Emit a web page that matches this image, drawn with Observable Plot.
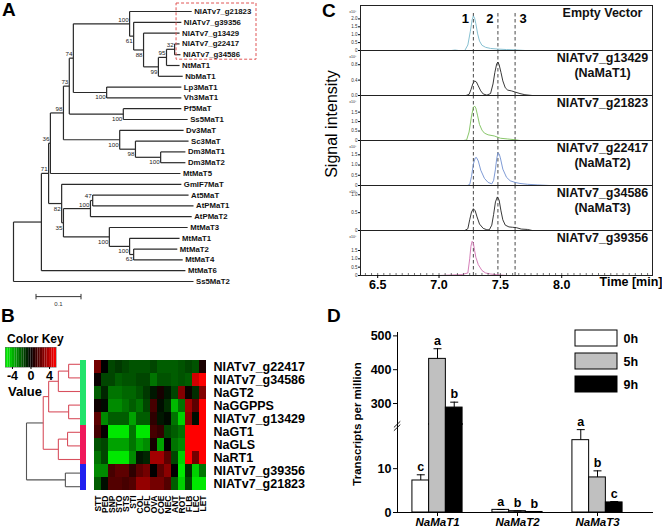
<!DOCTYPE html>
<html><head><meta charset="utf-8">
<script src="https://cdn.jsdelivr.net/npm/d3@7"></script>
<script src="https://cdn.jsdelivr.net/npm/@observablehq/plot@0.6"></script>
<style>
html,body{margin:0;padding:0;background:#fff;}
#root{position:relative;width:662px;height:527px;overflow:hidden;background:#fff;font-family:'Liberation Sans',Arial,sans-serif;}
#root svg{overflow:visible;max-width:none;}
</style></head><body><div id="root"></div>
<script>
// ---------------- DATA ----------------
// Panel A: phylogenetic tree
const treeLeafNames = ["NIATv7_g21823","NIATv7_g39356","NIATv7_g13429","NIATv7_g22417","NIATv7_g34586","NtMaT1","NbMaT1","Lp3MaT1","Vh3MaT1","Pf5MaT","Ss5MaT1","Dv3MaT","Sc3MaT","Dm3MaT1","Dm3MaT2","MtMaT5","GmIF7MaT","At5MaT","AtPMaT1","AtPMaT2","MtMaT3","MtMaT1","MtMaT2","MtMaT4","MtMaT6","Ss5MaT2"];
const treeLeafParent = ["A","B","C","F","F","E","D","H","H","J","J","L","M","N","N","O","P","S2","S2","S","T","U","V","V","N1","root"];
const treeLeafDepth = [0.396,0.373,0.369,0.369,0.371,0.369,0.376,0.373,0.373,0.373,0.387,0.378,0.389,0.382,0.382,0.371,0.373,0.389,0.400,0.396,0.387,0.369,0.364,0.376,0.382,0.400];
const treeNodeNames  = ["root","N1","Q","O","K","I","G","A","B","C","D","E","F","H","J","L","M","N","P","R","S","S2","T","U","V"];
const treeNodeParent = [null,"root","N1","Q","O","K","I","G","A","B","C","D","E","G","I","K","L","M","Q","P","R","S","R","T","U"];
const treeNodeDepth  = [0,0.062,0.078,0.082,0.111,0.124,0.133,0.258,0.267,0.289,0.322,0.340,0.358,0.207,0.244,0.236,0.271,0.327,0.107,0.111,0.171,0.176,0.213,0.258,0.267];
const treeNodeSupport= [null,null,71,36,98,73,74,100,61,88,99,95,32,100,100,100,98,100,82,35,100,47,100,100,63];
const supportAbove = ["A","E","F","G","I","K","O","Q","S","S2"];
const highlightLeaves = ["NIATv7_g21823","NIATv7_g39356","NIATv7_g13429","NIATv7_g22417","NIATv7_g34586"];
const scaleBarStart = 0.05, scaleBarLength = 0.1, scaleBarLabel = "0.1";

// Panel B: heatmap
const heatRows = ["NIATv7_g22417","NIATv7_g34586","NaGT2","NaGGPPS","NIATv7_g13429","NaGT1","NaGLS","NaRT1","NIATv7_g39356","NIATv7_g21823"];
const heatCols = ["STT","PED","SNP","STO","STS","STI","COL","OFL","OVA","COE","NEC","ANT","ROT","FLB","LEC","LET"];
const heatValues = [
  [2.5,0,-1.5,-1.2,-1.5,-1.8,-1.8,-1.8,-1.5,-2,-2,-2,-1.8,-1.5,-1.8,0.6],
  [0.2,-1.5,-1.5,-2,-1.8,-1.8,-1.5,-1.5,-2.5,-1.8,-1.8,-2,-1.8,-2,4.5,5.5],
  [-2,-0.8,-2.5,-2.5,-2.2,-2.2,-1.8,-1.2,-0.5,0.5,-0.5,-1.5,2.8,0.3,-1,2.8],
  [0.3,-0.2,-3,-3,-2.5,-2,-2.5,-1.5,1.5,-0.3,-1,-4,-2.5,3.5,2,5.5],
  [2,-3,-2,-2,-2,-3.5,-2,-2,1,-0.5,-0.2,-2.5,-4.5,3,-0.3,5.5],
  [1.5,0.1,-5,-5,-5,-2.5,-5,-5,1.5,1.1,-1.5,-2,-2.5,5.5,5.5,5.5],
  [-1.8,-1.5,-3.5,-3.5,-3.5,-2.5,-3.5,-3,0.5,-3.5,0,-2.5,-3,5.5,5.5,5.5],
  [-2.5,-1.5,-5,-5,-5,-3,-0.5,-0.8,3.5,3.5,2,-1.5,-4.5,5.5,2.5,5.5],
  [-3,-3,1.5,2,2,1,2,2.5,0,2,3,0,-5,-1,-4.5,-2.5],
  [-2,-0.3,1.8,1.8,1.5,1.8,3.2,3.2,2.5,2.5,1.8,-2,-4.5,-1.5,-5,-5]
];
const heatRowCluster = ["c1","c1","c1","c1","c1","c2","c2","c2","c3","c3"];
const clusterColors = {c1: "#22e36b", c2: "#f0185a", c3: "#2020f0"};
const dendroIds = heatRows.concat(["n01","n012","n34","nG","n56","nP","nGP","nB","root"]);
const dendroParent = ["n01","n01","n012","n34","n34","n56","n56","nP","nB","nB","n012","nG","nG","nGP","nP","nGP","root","root",null];
const dendroHeight = [0,0,0,0,0,0,0,0,0,0,0.22,0.41,0.22,0.59,0.24,0.41,0.69,0.28,1];
const dendroRedNode = "nGP";
const keyDomain = [-5.5, 5.5];
const keyTicks = [-4, 0, 4];

// Panel C: chromatograms
const peakTimes = [7.28, 7.48, 7.62];
const peakNames = ["1", "2", "3"];
const chromLabels = ["Empty Vector","NIATv7_g13429\n(NaMaT1)","NIATv7_g21823","NIATv7_g22417\n(NaMaT2)","NIATv7_g34586\n(NaMaT3)","NIATv7_g39356"];
const chromColors = ["#79b9cc","#222222","#7cc05a","#7090d0","#222222","#d070b0"];
const chromMax = [2.85, 1.17, 2.38, 2.2, 1.26, 2.7];
const chromTicks = [[0,0.5,1,1.5,2],[0,0.4,0.8],[0,0.5,1,1.5],[0,0.5,1,1.5],[0,0.5,1],[0,0.5,1,1.5]];
const tEV = [6.36,7.10,7.13,7.16,7.21,7.235,7.255,7.27,7.28,7.29,7.30,7.315,7.33,7.35,7.38,7.42,7.48,7.55,7.62,7.70,8.74];
const vEV = [0,0,0.03,0,0,0.35,1.2,1.95,2.19,2.05,1.7,1.05,0.6,0.33,0.2,0.13,0.09,0.06,0.04,0,0];
const t13429 = [6.36,7.22,7.245,7.26,7.275,7.29,7.305,7.32,7.34,7.36,7.39,7.42,7.44,7.455,7.47,7.48,7.49,7.505,7.52,7.54,7.56,7.59,7.62,7.66,7.70,7.76,8.74];
const v13429 = [0,0,0.03,0.15,0.3,0.38,0.35,0.25,0.12,0.04,0.01,0.05,0.3,0.6,0.82,0.87,0.8,0.6,0.38,0.2,0.14,0.12,0.09,0.05,0.02,0,0];
const t21823 = [6.36,7.20,7.225,7.245,7.265,7.28,7.29,7.30,7.315,7.33,7.35,7.37,7.40,7.45,7.50,7.56,7.62,7.66,8.74];
const v21823 = [0,0,0.03,0.45,1.3,1.75,1.82,1.72,1.3,0.85,0.55,0.39,0.3,0.24,0.12,0.08,0.04,0,0];
const t22417 = [6.36,7.23,7.25,7.265,7.28,7.295,7.305,7.32,7.34,7.37,7.40,7.43,7.445,7.46,7.47,7.48,7.49,7.50,7.52,7.55,7.58,7.62,7.66,7.72,7.80,7.90,8.74];
const v22417 = [0,0,0.05,0.45,1.05,1.35,1.37,1.2,0.75,0.35,0.15,0.08,0.25,0.8,1.3,1.6,1.55,1.35,0.8,0.4,0.23,0.15,0.1,0.06,0.03,0,0];
const t34586 = [6.36,7.21,7.235,7.25,7.265,7.28,7.295,7.31,7.33,7.36,7.39,7.41,7.43,7.445,7.46,7.475,7.49,7.505,7.52,7.54,7.57,7.60,7.63,7.67,7.72,7.76,8.74];
const v34586 = [0,0,0.05,0.3,0.52,0.61,0.55,0.38,0.18,0.06,0.02,0.02,0.15,0.45,0.8,0.94,0.85,0.55,0.3,0.15,0.1,0.09,0.08,0.04,0.03,0,0];
const t39356 = [6.36,7.00,7.10,7.18,7.235,7.25,7.26,7.27,7.28,7.29,7.30,7.32,7.35,7.38,7.42,7.47,7.55,8.74];
const v39356 = [0,0,0.03,0.05,0.15,1.0,1.75,2.05,1.95,1.5,1.1,0.65,0.3,0.15,0.09,0.05,0,0];
const chromTimes = [tEV,t13429,t21823,t22417,t34586,t39356];
const chromValues = [vEV,v13429,v21823,v22417,v34586,v39356];
const timeTicks = [6.5, 7.0, 7.5, 8.0];

// Panel D: transcripts per million
const genes = ["NaMaT1","NaMaT2","NaMaT3"];
const timePoints = ["0h","5h","9h"];
const tpmMean = [[7.3,432,288],[0.6,0.3,0.12],[16.5,8.0,2.3]];
const tpmSE   = [[1.3,30,16],[0.08,0.05,0.03],[2.4,1.5,0.2]];
const tpmLetters = [["c","a","b"],["a","b","b"],["a","b","c"]];
const barFills = ["#ffffff","#c0c0c0","#000000"];
const lowerTicks = [0, 10], upperTicks = [300, 400, 500];

// ---------------- HELPERS ----------------
const root = document.getElementById("root");
const FONT = "'Liberation Sans', Arial, sans-serif";
const ST = {background: "transparent", overflow: "visible", fontFamily: FONT, maxWidth: "none", color: "#000"};
function place(node, left, top) {
  const d = document.createElement("div");
  d.style.position = "absolute"; d.style.left = left + "px"; d.style.top = top + "px";
  d.appendChild(node); root.appendChild(d); return d;
}
function label(text, left, top, opts = {}) {
  const d = document.createElement("div");
  d.textContent = text;
  Object.assign(d.style, {position: "absolute", left: left + "px", top: top + "px", fontWeight: "bold",
    fontSize: "19px", lineHeight: "1", whiteSpace: "nowrap", fontFamily: FONT, color: "#000"}, opts);
  root.appendChild(d); return d;
}

// ---------------- PANEL A ----------------
(function () {
  const parent = new Map(), depth = new Map(), kids = new Map(), yOf = new Map();
  treeNodeNames.forEach((n, i) => { parent.set(n, treeNodeParent[i]); depth.set(n, treeNodeDepth[i]); kids.set(n, []); });
  treeLeafNames.forEach((n, i) => { parent.set(n, treeLeafParent[i]); depth.set(n, treeLeafDepth[i]); yOf.set(n, i); });
  for (const [n, p] of parent) if (p) kids.get(p).push(n);
  function ny(n) {
    if (yOf.has(n)) return yOf.get(n);
    const ys = kids.get(n).map(ny);
    const y = (d3.min(ys) + d3.max(ys)) / 2; yOf.set(n, y); return y;
  }
  ny("root");
  const hLinks = [...parent].filter(([n, p]) => p).map(([n, p]) => ({x1: depth.get(p), x2: depth.get(n), y: yOf.get(n)}));
  const vLinks = treeNodeNames.map(n => { const ys = kids.get(n).map(k => yOf.get(k)); return {x: depth.get(n), y1: d3.min(ys), y2: d3.max(ys)}; });
  const leaves = treeLeafNames.map((n, i) => ({name: n, x: treeLeafDepth[i], y: i}));
  const sup = treeNodeNames.map((n, i) => ({n, x: treeNodeDepth[i], y: yOf.get(n), s: String(treeNodeSupport[i])})).filter((d, i) => treeNodeSupport[i] != null);
  const hl = highlightLeaves.map(n => treeLeafNames.indexOf(n));
  const box = [{x1: d3.min(highlightLeaves, n => depth.get(n)), x2: 0.54, y1: d3.min(hl), y2: d3.max(hl)}];
  const sbY = treeLeafNames.length + 0.4;
  const sb = [{a: scaleBarStart, b: scaleBarStart + scaleBarLength, y: sbY}];
  const sbTicks = [scaleBarStart, scaleBarStart + scaleBarLength].map(x => ({x, y1: sbY - 0.25, y2: sbY + 0.25}));
  const svg = Plot.plot({
    width: 262, height: 310, marginLeft: 13, marginRight: 6, marginTop: 11, marginBottom: 29,
    style: ST,
    x: {domain: [0, 0.54], axis: null},
    y: {domain: [0, 25], reverse: true, axis: null},
    marks: [
      Plot.link(hLinks, {x1: "x1", x2: "x2", y1: "y", y2: "y", stroke: "#2a2a2a", strokeWidth: 1.2}),
      Plot.link(vLinks, {x1: "x", x2: "x", y1: "y1", y2: "y2", stroke: "#2a2a2a", strokeWidth: 1.2}),
      Plot.text(leaves, {x: "x", y: "y", text: "name", dx: 2.5, textAnchor: "start", fontSize: 7.8, fontWeight: "bold", fill: "#111"}),
      Plot.text(sup.filter(d => supportAbove.includes(d.n)), {x: "x", y: "y", text: "s", textAnchor: "end", dx: -1, dy: -4, fontSize: 6.2, fill: "#222"}),
      Plot.text(sup.filter(d => !supportAbove.includes(d.n)), {x: "x", y: "y", text: "s", textAnchor: "end", dx: -1, dy: 5, fontSize: 6.2, fill: "#222"}),
      Plot.rect(box, {x1: "x1", x2: "x2", y1: "y1", y2: "y2", fill: "none", stroke: "#e05555", strokeWidth: 1, strokeDasharray: "3,2", insetLeft: -3, insetTop: -8, insetBottom: -5}),
      Plot.link(sb, {x1: "a", x2: "b", y1: "y", y2: "y", stroke: "#333", strokeWidth: 1}),
      Plot.link(sbTicks, {x1: "x", x2: "x", y1: "y1", y2: "y2", stroke: "#333", strokeWidth: 1}),
      Plot.text(sb, {x: d => (d.a + d.b) / 2, y: "y", text: () => scaleBarLabel, dy: 7, fontSize: 6, fill: "#333"})
    ]
  });
  place(svg, 0, 0);
})();
label("A", 2, 0);

// ---------------- PANEL B ----------------
const heatColor = {type: "linear", domain: [keyDomain[0], 0, keyDomain[1]], range: ["#00ff00", "#000000", "#ff0000"], clamp: true};
(function () {
  const cells = [];
  heatRows.forEach((r, i) => heatCols.forEach((c, j) => cells.push({row: r, col: c, v: heatValues[i][j]})));
  const svg = Plot.plot({
    width: 236, height: 170, marginLeft: 0, marginRight: 115, marginTop: 0, marginBottom: 34,
    style: ST,
    x: {domain: heatCols, padding: 0},
    y: {domain: heatRows, padding: 0},
    color: heatColor,
    marks: [
      Plot.cell(cells, {x: "col", y: "row", fill: "v"}),
      Plot.axisY({anchor: "right", tickSize: 0, tickPadding: 3, fontSize: 12.5, fontWeight: "bold", label: null}),
      Plot.axisX({anchor: "bottom", tickSize: 0, tickPadding: 2, tickRotate: -90, fontSize: 8.5, fontWeight: "bold", label: null})
    ]
  });
  place(svg, 89, 357);

  // dendrogram
  const par = new Map(), h = new Map(), kids = new Map(), yOf = new Map();
  dendroIds.forEach((n, i) => { par.set(n, dendroParent[i]); h.set(n, dendroHeight[i]); kids.set(n, []); });
  heatRows.forEach((n, i) => yOf.set(n, i));
  for (const [n, p] of par) if (p) kids.get(p).push(n);
  function ny(n) { if (yOf.has(n)) return yOf.get(n); const ys = kids.get(n).map(ny); const y = (d3.min(ys) + d3.max(ys)) / 2; yOf.set(n, y); return y; }
  ny("root");
  const red = new Set();
  (function mark(n) { red.add(n); kids.get(n).forEach(mark); })(dendroRedNode);
  const hL = [...par].filter(([n, p]) => p).map(([n, p]) => ({x1: h.get(p), x2: h.get(n), y: yOf.get(n), red: red.has(p)}));
  const vL = dendroIds.filter(n => kids.get(n).length).map(n => { const ys = kids.get(n).map(k => yOf.get(k)); return {x: h.get(n), y1: d3.min(ys), y2: d3.max(ys), red: red.has(n)}; });
  const links = hL.map(d => ({x1: d.x1, x2: d.x2, y1: d.y, y2: d.y, red: d.red})).concat(vL.map(d => ({x1: d.x, x2: d.x, y1: d.y1, y2: d.y2, red: d.red})));
  const dsvg = Plot.plot({
    width: 80, height: 136, marginLeft: 26, marginRight: 0, marginTop: 0, marginBottom: 0,
    style: ST,
    x: {domain: [1, 0], axis: null},
    y: {domain: [-0.5, heatRows.length - 0.5], reverse: true, axis: null},
    marks: [
      Plot.link(links.filter(d => !d.red), {x1: "x1", x2: "x2", y1: "y1", y2: "y2", stroke: "#555", strokeWidth: 1.1}),
      Plot.link(links.filter(d => d.red), {x1: "x1", x2: "x2", y1: "y1", y2: "y2", stroke: "#d8505e", strokeWidth: 1.1})
    ]
  });
  place(dsvg, 0, 357);

  // side colour bar
  const ssvg = Plot.plot({
    width: 6, height: 136, margin: 0, style: ST,
    x: {domain: ["k"], padding: 0, axis: null},
    y: {domain: heatRows, padding: 0, axis: null},
    color: {type: "identity"},
    marks: [Plot.cell(heatRows, {x: () => "k", y: d => d, fill: (d, i) => clusterColors[heatRowCluster[i]]})]
  });
  place(ssvg, 80, 357);

  // colour key
  const steps = d3.range(keyDomain[0], keyDomain[1], 0.5).map(a => ({a, b: a + 0.5, v: a + 0.25}));
  const ksvg = Plot.plot({
    width: 70, height: 38, marginLeft: 5, marginRight: 14, marginTop: 0, marginBottom: 18,
    style: ST,
    x: {domain: keyDomain},
    y: {axis: null},
    color: heatColor,
    marks: [
      Plot.rect(steps, {x1: "a", x2: "b", fill: "v"}),
      Plot.frame({stroke: "#666", strokeWidth: 0.5}),
      Plot.axisX({ticks: keyTicks, tickSize: 2, tickPadding: 2, tickFormat: d => String(d), fontSize: 12.5, fontWeight: "bold", label: null})
    ]
  });
  place(ksvg, 0, 347);
})();
label("B", 1, 306);
label("Color Key", 7, 333, {fontSize: "12px"});
label("Value", 8, 385, {fontSize: "13px"});

// ---------------- PANEL C ----------------
(function () {
  const n = chromLabels.length;
  const minor = d3.range(6.40, 8.74, 0.05);
  chromLabels.forEach((lab, i) => {
    const last = i === n - 1;
    const data = chromTimes[i].map((t, k) => ({t, v: chromValues[i][k]}));
    const fmt = i === 1 ? d3.format(".1f") : (d => d === 0 ? "0" : d3.format(".1f")(d));
    const peaks = peakTimes.map((t, k) => ({t, name: peakNames[k]}));
    const marks = [
      Plot.ruleX(peakTimes, {stroke: "#333", strokeWidth: 0.9, strokeDasharray: "3.5,2.5", insetTop: i === 0 ? 8 : 0}),
      Plot.line(data, {x: "t", y: "v", stroke: chromColors[i], strokeWidth: 0.9}),
      Plot.frame({stroke: "#222", strokeWidth: 1}),
      Plot.axisY({ticks: chromTicks[i], tickSize: 2, tickPadding: 1, fontSize: 4.5, tickFormat: fmt, label: null, fill: "#333"}),
      Plot.text(["x10⁶"], {frameAnchor: "top-left", dx: -4, dy: 4.5, textAnchor: "end", fontSize: 3.6, fill: "#333"}),
      Plot.text([lab], {frameAnchor: "top-right", dx: -50, dy: 0.5, textAnchor: "middle", lineAnchor: "top", lineHeight: 1.2, fontSize: 12.5, fontWeight: "bold", fill: "#111"})
    ];
    if (i === 0) {
      marks.push(Plot.text(peaks.slice(0, 2), {x: "t", text: "name", frameAnchor: "top", dy: 8, dx: -8, fontSize: 13, fontWeight: "bold"}));
      marks.push(Plot.text(peaks.slice(2), {x: "t", text: "name", frameAnchor: "top", dy: 8, dx: 8, fontSize: 13, fontWeight: "bold"}));
    }
    if (last) {
      marks.push(Plot.ruleX(minor, {insetTop: 43, stroke: "#333", strokeWidth: 0.7}));
      marks.push(Plot.axisX({ticks: timeTicks, tickSize: 3, tickPadding: 2, tickFormat: d3.format(".1f"), fontSize: 12.5, fontWeight: "bold", label: null}));
      marks.push(Plot.text(["Time [min]"], {frameAnchor: "bottom-right", dx: 10, dy: 10, textAnchor: "end", fontSize: 12.5, fontWeight: "bold"}));
    }
    const svg = Plot.plot({
      width: 342, height: 45 + (last ? 28 : 0), marginLeft: 40, marginRight: 10, marginTop: 0, marginBottom: last ? 28 : 0,
      style: ST,
      x: {domain: [6.36, 8.74], axis: null},
      y: {domain: [0, chromMax[i]], axis: null},
      marks
    });
    place(svg, 320, 5 + 45 * i);
  });
})();
label("C", 322, 1);
label("Signal intensity", 332, 123.5, {fontWeight: "normal", fontSize: "16px", transform: "translate(-50%,-50%) rotate(-90deg)"});

// ---------------- PANEL D ----------------
(function () {
  const barW = 0.209;
  const bars = [];
  genes.forEach((g, gi) => timePoints.forEach((t, si) => {
    const c = gi + (si - 1) * barW;
    bars.push({gene: g, time: t, c, x1: c - barW / 2, x2: c + barW / 2, mean: tpmMean[gi][si], top: tpmMean[gi][si] + tpmSE[gi][si], letter: tpmLetters[gi][si], fill: barFills[si]});
  }));
  const lowerMax = 20.3, upperMin = 235;
  const xDom = [-0.5, 2.7];
  function barMarks(filterFn) {
    return [
      Plot.rectY(bars, {x1: "x1", x2: "x2", y1: 0, y2: "mean", fill: "fill", stroke: "#000", strokeWidth: 1, clip: true}),
      Plot.ruleX(bars, {x: "c", y1: "mean", y2: "top", stroke: "#000", strokeWidth: 1, clip: true}),
      Plot.link(bars, {x1: d => d.c - 0.05, x2: d => d.c + 0.05, y1: "top", y2: "top", stroke: "#000", strokeWidth: 1, clip: true}),
      Plot.text(bars.filter(filterFn), {x: "c", y: "top", text: "letter", dy: -8, fontSize: 12.5, fontWeight: "bold"})
    ];
  }
  // axis-break marks ("//") crossing the y axis at the top of the lower segment
  const breakMarks = [0, 1].map(k => ({x1: xDom[0] - 0.045, x2: xDom[0] + 0.035, y1: lowerMax - 0.9 - 0.75 * k, y2: lowerMax + 0.5 - 0.75 * k}));
  const upper = Plot.plot({
    width: 342, height: 105, marginLeft: 77, marginRight: 9, marginTop: 12, marginBottom: 0,
    style: ST,
    x: {domain: xDom, axis: null},
    y: {domain: [upperMin, 510]},
    color: {type: "identity"},
    marks: [
      ...barMarks(d => d.top > upperMin),
      Plot.ruleX([xDom[0]], {stroke: "#000", strokeWidth: 1}),
      Plot.axisY({ticks: upperTicks, tickSize: 4, tickPadding: 2, fontSize: 12.5, fontWeight: "bold", label: null})
    ]
  });
  place(upper, 320, 320);
  const lower = Plot.plot({
    width: 342, height: 111, marginLeft: 77, marginRight: 9, marginTop: 0, marginBottom: 22,
    style: ST,
    x: {domain: xDom},
    y: {domain: [0, lowerMax]},
    color: {type: "identity"},
    marks: [
      ...barMarks(d => d.top <= lowerMax),
      Plot.ruleX([xDom[0]], {stroke: "#000", strokeWidth: 1}),
      Plot.ruleY([0], {stroke: "#000", strokeWidth: 1}),
      Plot.axisY({ticks: lowerTicks, tickSize: 4, tickPadding: 2, fontSize: 12.5, fontWeight: "bold", label: null}),
      Plot.axisX({ticks: [0, 1, 2], tickFormat: i => genes[i], tickSize: 4, tickPadding: 1, fontSize: 11.5, fontWeight: "bold", fontStyle: "italic", label: null}),
      Plot.link(breakMarks, {x1: "x1", x2: "x2", y1: "y1", y2: "y2", stroke: "#000", strokeWidth: 0.9})
    ]
  });
  place(lower, 320, 423);
  const legend = Plot.plot({
    width: 82, height: 63, marginLeft: 0, marginRight: 40, marginTop: 0, marginBottom: 0,
    style: ST,
    x: {domain: ["k"], padding: 0, axis: null},
    y: {domain: timePoints, paddingInner: 0.3, paddingOuter: 0},
    color: {type: "identity"},
    marks: [
      Plot.cell(timePoints, {x: () => "k", y: d => d, fill: (d, i) => barFills[i], stroke: "#000", strokeWidth: 1}),
      Plot.axisY({anchor: "right", tickSize: 0, tickPadding: 6, fontSize: 12.5, fontWeight: "bold", label: null})
    ]
  });
  place(legend, 575, 330);
})();
label("D", 327, 306);
label("Transcripts per million", 358, 424, {fontSize: "11.5px", transform: "translate(-50%,-50%) rotate(-90deg)"});
</script></body></html>
